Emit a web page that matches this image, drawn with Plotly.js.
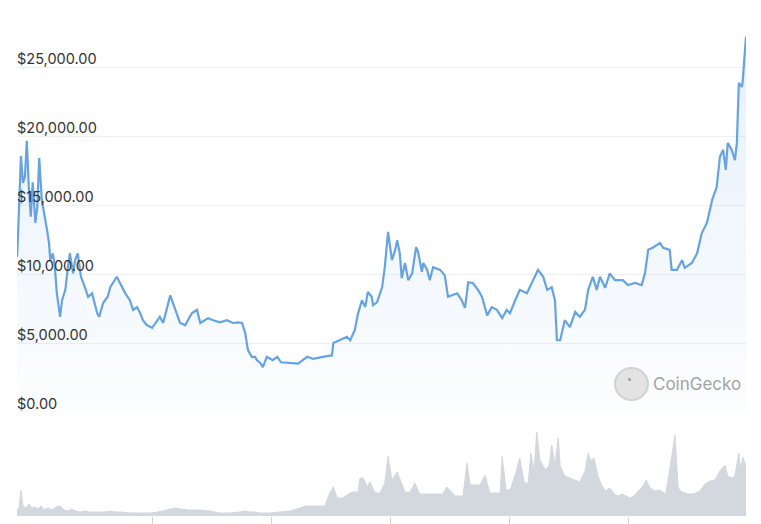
<!DOCTYPE html>
<html>
<head>
<meta charset="utf-8">
<script src="https://cdn.plot.ly/plotly-3.0.1.min.js"></script>
<style>html,body{margin:0;padding:0;background:#fff;}#chart{width:761px;height:524px;}</style>
</head>
<body>
<div id="chart"></div>
<script>
// Bitcoin price (USD)
var priceDates = [
"2017-12-06","2017-12-07","2017-12-12","2017-12-15","2017-12-18","2017-12-21","2017-12-24","2017-12-27","2017-12-30",
"2018-01-03","2018-01-06","2018-01-09","2018-01-13","2018-01-18","2018-01-21","2018-01-24","2018-01-26","2018-01-30",
"2018-02-02","2018-02-05","2018-02-10","2018-02-13","2018-02-18","2018-02-22","2018-02-25","2018-03-02","2018-03-05",
"2018-03-09","2018-03-14","2018-03-20","2018-03-25","2018-03-31","2018-04-08","2018-04-11","2018-04-17","2018-04-24",
"2018-04-28","2018-05-02","2018-05-08","2018-05-16","2018-05-21","2018-05-28","2018-06-02","2018-06-08","2018-06-13",
"2018-06-17","2018-06-23","2018-07-01","2018-07-09","2018-07-13","2018-07-18","2018-07-24","2018-07-29","2018-08-02",
"2018-08-08","2018-08-13","2018-08-21","2018-08-25","2018-08-31","2018-09-08","2018-09-13","2018-09-20","2018-09-25",
"2018-10-03","2018-10-13","2018-10-24","2018-11-02","2018-11-10","2018-11-16","2018-11-21","2018-11-25","2018-12-01",
"2018-12-06","2018-12-09","2018-12-14","2018-12-18","2018-12-24","2019-01-02","2019-01-09","2019-01-15","2019-02-02",
"2019-02-10","2019-02-24","2019-03-05","2019-03-26","2019-04-03","2019-04-05","2019-04-15","2019-04-26","2019-05-01",
"2019-05-08","2019-05-13","2019-05-19","2019-05-24","2019-05-28","2019-06-03","2019-06-05","2019-06-11","2019-06-19",
"2019-06-23","2019-06-28","2019-07-04","2019-07-09","2019-07-12","2019-07-16","2019-07-19","2019-07-24","2019-07-29",
"2019-08-04","2019-08-10","2019-08-13","2019-08-19","2019-08-21","2019-08-27","2019-08-31","2019-09-05","2019-09-16",
"2019-09-23","2019-09-28","2019-10-06","2019-10-12","2019-10-19","2019-10-24","2019-10-29","2019-11-05","2019-11-13",
"2019-11-19","2019-11-27","2019-12-04","2019-12-12","2019-12-20","2019-12-27","2020-01-01","2020-01-09","2020-01-16",
"2020-01-27","2020-02-04","2020-02-13","2020-02-21","2020-02-27","2020-03-05","2020-03-10","2020-03-13","2020-03-18",
"2020-03-25","2020-04-02","2020-04-10","2020-04-17","2020-04-25","2020-04-30","2020-05-07","2020-05-13","2020-05-18",
"2020-05-26","2020-06-02","2020-06-10","2020-06-22","2020-06-30","2020-07-11","2020-07-21","2020-07-26","2020-07-31",
"2020-08-07","2020-08-18","2020-08-23","2020-09-02","2020-09-05","2020-09-13","2020-09-21","2020-09-25","2020-10-06",
"2020-10-14","2020-10-21","2020-10-29","2020-11-06","2020-11-13","2020-11-18","2020-11-23","2020-11-27","2020-11-30",
"2020-12-06","2020-12-11","2020-12-14","2020-12-17","2020-12-22","2020-12-23","2020-12-28"
];
var priceValues = [
11250,12250,18550,16600,17000,19650,16300,14150,16650,
13700,14850,18400,15350,14150,13200,12250,11000,11500,
10500,8600,6900,8100,8850,10500,11500,10050,11000,
11500,9800,9050,8350,8600,7150,6900,7900,8350,
9050,9350,9800,9050,8600,8100,7400,7600,7150,
6650,6300,6100,6650,6900,6450,7550,8450,7900,
7150,6450,6300,6650,7150,7400,6450,6650,6800,
6650,6500,6650,6450,6500,6450,5700,4500,4000,
4000,3750,3550,3250,4000,3750,4000,3600,3550,
3500,4000,3850,4050,4100,5000,5200,5450,5200,
5950,7150,8100,7600,8700,8350,7750,7950,9050,
10500,13050,11000,11750,12450,11500,9700,10800,9550,
10050,11950,11600,10150,10800,10300,9550,10500,10300,
9900,8350,8500,8600,8100,7550,9400,9350,8850,
8350,7000,7600,7400,6800,7400,7150,8100,8850,
8600,9400,10300,9800,8850,9050,8100,5200,5200,
6650,6150,7250,6900,7400,8850,9800,8850,9800,
9000,10050,9550,9550,9200,9350,9200,10050,11750,
11900,12250,11900,11750,10300,10300,11000,10450,10800,
11500,12950,13700,15350,16300,18500,19000,17550,19500,
19000,18250,19500,23850,23550,24050,27200
];

// Trading volume (billion USD, relative scale)
var volumeDates = [
"2017-12-06","2017-12-09","2017-12-12","2017-12-15","2017-12-20","2017-12-24","2017-12-29","2018-01-03","2018-01-07",
"2018-01-12","2018-01-16","2018-01-22","2018-01-29","2018-02-04","2018-02-10","2018-02-16","2018-02-22","2018-02-28",
"2018-03-06","2018-03-13","2018-03-20","2018-03-28","2018-04-05","2018-04-12","2018-04-20","2018-04-28","2018-05-05",
"2018-05-13","2018-05-28","2018-06-13","2018-06-28","2018-07-10","2018-07-21","2018-07-29","2018-08-05","2018-08-13",
"2018-08-28","2018-09-13","2018-09-28","2018-10-13","2018-10-29","2018-11-13","2018-11-21","2018-11-28","2018-12-06",
"2018-12-14","2018-12-29","2019-01-13","2019-01-29","2019-02-13","2019-02-21","2019-03-08","2019-03-23","2019-03-28",
"2019-04-05","2019-04-11","2019-04-20","2019-04-26","2019-05-04","2019-05-13","2019-05-16","2019-05-21","2019-05-27",
"2019-05-31","2019-06-08","2019-06-16","2019-06-23","2019-06-28","2019-07-04","2019-07-12","2019-07-16","2019-07-24",
"2019-08-01","2019-08-08","2019-08-16","2019-08-31","2019-09-20","2019-09-26","2019-10-09","2019-10-21","2019-10-27",
"2019-11-01","2019-11-16","2019-11-24","2019-12-01","2019-12-17","2019-12-20","2019-12-26","2020-01-01","2020-01-09",
"2020-01-16","2020-01-23","2020-01-29","2020-02-02","2020-02-07","2020-02-11","2020-02-16","2020-02-24","2020-03-01",
"2020-03-05","2020-03-10","2020-03-15","2020-03-18","2020-03-25","2020-04-02","2020-04-10","2020-04-17","2020-04-25",
"2020-04-30","2020-05-04","2020-05-09","2020-05-15","2020-05-21","2020-05-27","2020-06-02","2020-06-09","2020-06-15",
"2020-06-21","2020-06-27","2020-07-03","2020-07-09","2020-07-23","2020-07-28","2020-08-03","2020-08-10","2020-08-18",
"2020-08-27","2020-09-02","2020-09-05","2020-09-10","2020-09-15","2020-09-21","2020-09-30","2020-10-09","2020-10-18",
"2020-10-26","2020-11-03","2020-11-10","2020-11-18","2020-11-26","2020-11-30","2020-12-06","2020-12-11","2020-12-17",
"2020-12-20","2020-12-23","2020-12-28"
];
var volumeValues = [
6,8,26,10,8,12,8,9,7,
10,6,8,6,9,10,6,5,7,
5,4,5,4,4,4,4,5,4,
4,3,3,3,4,6,7,8,7,
6,6,5,3,3,4,5,4,4,
3,3,4,5,8,10,10,10,19,
29,18,18,21,24,24,38,38,29,
34,23,23,33,60,36,44,37,24,
24,33,22,22,22,29,20,20,53,
31,31,41,23,23,60,26,26,41,
58,33,33,63,45,84,56,46,50,
71,50,78,50,40,38,36,34,45,
63,55,58,40,30,25,28,22,20,
22,20,18,20,30,36,28,25,26,
22,45,59,81,28,24,22,22,25,
32,35,36,45,51,40,38,40,63,
45,59,50
];

var priceTicks = [0, 5000, 10000, 15000, 20000, 25000];

var traces = [
  {
    type: 'scatter', mode: 'lines',
    x: volumeDates, y: volumeValues,
    xaxis: 'x', yaxis: 'y2',
    fill: 'tozeroy', fillcolor: '#d3d7de',
    line: {color: '#d3d7de', width: 1},
    hoverinfo: 'skip'
  },
  {
    type: 'scatter', mode: 'lines',
    x: priceDates, y: priceValues,
    xaxis: 'x', yaxis: 'y',
    fill: 'tozeroy',
    fillgradient: {type: 'vertical', start: 0, stop: 27200,
      colorscale: [[0, 'rgba(101,163,227,0.02)'], [1, 'rgba(101,163,227,0.16)']]},
    line: {color: '#65a3e3', width: 2.2}
  }
];

var layout = {
  width: 761, height: 524,
  margin: {l: 17, r: 15, t: 0, b: 8},
  paper_bgcolor: '#ffffff', plot_bgcolor: 'rgba(0,0,0,0)',
  showlegend: false,
  font: {family: 'Inter, "Noto Sans", sans-serif', color: '#333333', size: 14},
  xaxis: {
    type: 'date', anchor: 'y2',
    range: ['2017-12-05 22:00', '2020-12-28'],
    tick0: '2018-01-01', dtick: 'M6',
    ticks: 'outside', ticklen: 8, tickcolor: '#cfd4dc', tickwidth: 1,
    showticklabels: false, showgrid: false, zeroline: false, showline: false
  },
  yaxis: {
    domain: [104/516, 1],
    range: [0, 29855],
    tickvals: priceTicks,
    tickformat: '$,.2f',
    ticklabelposition: 'inside top',
    ticklabelstandoff: -3,
    ticklabelshift: 2,
    ticks: '', showline: false, zeroline: false,
    gridcolor: '#eef0f3', gridwidth: 1,
    tickfont: {family: 'Inter, "Noto Sans", sans-serif', size: 14.5, color: '#333333'}
  },
  yaxis2: {
    domain: [0, 104/516],
    range: [0, 104],
    showgrid: false, zeroline: false, showticklabels: false, ticks: '', showline: false
  },
  shapes: [
    {type: 'circle', xref: 'paper', yref: 'paper',
     x0: (615-17)/729, x1: (648-17)/729, y0: (516-400)/516, y1: (516-368)/516,
     fillcolor: '#e3e3e3', line: {color: '#d2d2d2', width: 2}},
    {type: 'circle', xref: 'paper', yref: 'paper',
     x0: (628-17)/729, x1: (631-17)/729, y0: (516-381)/516, y1: (516-378)/516,
     fillcolor: '#9a9a9a', line: {width: 0}}
  ],
  annotations: [
    {text: 'CoinGecko', xref: 'paper', yref: 'paper',
     x: (697-17)/729, y: (516-384)/516, xanchor: 'center', yanchor: 'middle',
     showarrow: false, font: {family: 'Inter, "Noto Sans", sans-serif', size: 17, color: '#a3a3a3'}}
  ]
};

Plotly.newPlot('chart', traces, layout, {displayModeBar: false, staticPlot: true});
</script>
</body>
</html>
